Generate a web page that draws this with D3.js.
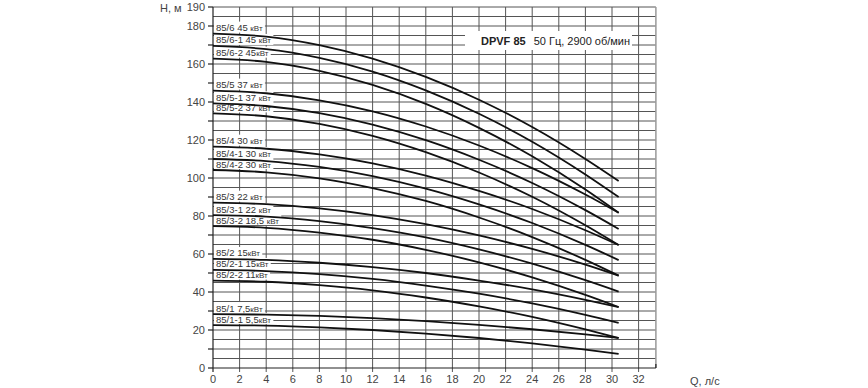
<!DOCTYPE html>
<html>
<head>
<meta charset="utf-8">
<script src="https://cdn.jsdelivr.net/npm/d3@7"></script>
<style>
  body { margin: 0; background: #fff; }
  svg { font-family: "Liberation Sans", Arial, sans-serif; }
</style>
</head>
<body>
<div id="chart"></div>
<script>
// Подача, л/с
const flow = [0, 4, 8, 12, 16, 20, 24, 28, 30.5];

// Насосы и мощность двигателя
const pumps = ["85/6", "85/6-1", "85/6-2", "85/5", "85/5-1", "85/5-2",
  "85/4", "85/4-1", "85/4-2", "85/3", "85/3-1", "85/3-2",
  "85/2", "85/2-1", "85/2-2", "85/1", "85/1-1"];
const power = ["45 ", "45 ", "45", "37 ", "37 ", "37 ",
  "30 ", "30 ", "30 ", "22 ", "22 ", "18,5 ",
  "15", "15", "11", "7,5", "5,5"];

// Напор, м (по точкам flow)
const head = [
  [176, 174.4, 169.9, 162.8, 153.2, 141.2, 126.8, 110, 98.4],
  [169.5, 167.8, 163.2, 156, 146.1, 133.8, 119.1, 101.9, 90],
  [162.8, 161.1, 156.4, 149, 139, 126.4, 111.4, 93.9, 81.7],
  [146, 144.6, 140.9, 135.1, 127.1, 117.1, 105.2, 91.3, 81.7],
  [139.3, 137.9, 134.1, 128.1, 119.9, 109.6, 97.4, 83.1, 73.2],
  [134, 132.5, 128.5, 122.2, 113.6, 102.9, 90.1, 75.1, 64.7],
  [116.5, 115.4, 112.4, 107.7, 101.3, 93.2, 83.7, 72.5, 64.7],
  [110, 108.9, 105.8, 101, 94.4, 86.1, 76.3, 64.8, 56.8],
  [104.2, 103, 99.8, 94.7, 87.9, 79.2, 68.9, 56.9, 48.6],
  [87, 86.2, 84, 80.5, 75.7, 69.8, 62.7, 54.4, 48.6],
  [80.5, 79.7, 77.3, 73.6, 68.7, 62.4, 54.9, 46.2, 40.2],
  [74.7, 73.8, 71.3, 67.5, 62.2, 55.6, 47.7, 38.5, 32.1],
  [57.4, 56.9, 55.4, 53.1, 50, 46, 41.4, 35.9, 32.1],
  [51.6, 51, 49.4, 46.9, 43.4, 39.1, 34, 28, 23.8],
  [46, 45.4, 43.6, 40.9, 37.1, 32.4, 26.9, 20.3, 15.8],
  [28.4, 28.1, 27.4, 26.3, 24.7, 22.7, 20.4, 17.7, 15.8],
  [22.6, 22.3, 21.4, 20, 18.1, 15.8, 13, 9.7, 7.4]
];

const xTicks = d3.range(0, 33, 2);
const yTicks = [0, 20, 40, 60, 80, 100, 120, 140, 160, 180, 190];

const W = 868, H = 388;
const svg = d3.select("#chart").append("svg").attr("width", W).attr("height", H);

const x = d3.scaleLinear().domain([0, 32]).range([213, 638.6]);
const y = d3.scaleLinear().domain([0, 190]).range([368, 7]);
const xMax = 33.3;

const grid = svg.append("g").attr("stroke", "#555").attr("stroke-width", 1);
// горизонтальная сетка через 5 м
d3.range(5, 191, 5).forEach(v => {
  grid.append("line").attr("x1", x(0)).attr("x2", x(xMax)).attr("y1", y(v)).attr("y2", y(v));
});
// вертикальная сетка через 2 л/с
xTicks.slice(1).forEach(v => {
  grid.append("line").attr("x1", x(v)).attr("x2", x(v)).attr("y1", y(0) + 4).attr("y2", y(190));
});
grid.append("line").attr("x1", x(xMax)).attr("x2", x(xMax)).attr("y1", y(0)).attr("y2", y(190))
  .attr("stroke", "#999").attr("stroke-width", 1.5);

// оси
const axes = svg.append("g").attr("stroke", "#222").attr("stroke-width", 1.2);
axes.append("line").attr("x1", x(0)).attr("x2", x(0)).attr("y1", y(0) + 4).attr("y2", y(190));
axes.append("line").attr("x1", x(0)).attr("x2", x(xMax)).attr("y1", y(0)).attr("y2", y(0));
axes.append("line").attr("x1", x(xMax)).attr("x2", x(xMax)).attr("y1", y(0)).attr("y2", y(0) - 4);
d3.range(0, 191, 10).forEach(v => {
  axes.append("line").attr("x1", x(0) - 5).attr("x2", x(0)).attr("y1", y(v)).attr("y2", y(v));
});

// подписи осей
svg.append("g").selectAll("text").data(yTicks).join("text")
  .attr("x", 205).attr("y", d => y(d) + 4)
  .attr("text-anchor", "end").attr("font-size", 11).attr("fill", "#444")
  .text(d => d);
svg.append("g").selectAll("text").data(xTicks).join("text")
  .attr("x", d => x(d)).attr("y", 383)
  .attr("text-anchor", "middle").attr("font-size", 11).attr("fill", "#444")
  .text(d => d);
svg.append("text").attr("x", 160).attr("y", 12).attr("font-size", 11).attr("fill", "#444").text("Н, м");
svg.append("text").attr("x", 690).attr("y", 385).attr("font-size", 11).attr("fill", "#444").text("Q, л/с");

// заголовок
svg.append("rect").attr("x", 465).attr("y", 31).attr("width", 167).attr("height", 19).attr("fill", "#fff");
const title = svg.append("text").attr("x", 481).attr("y", 45).attr("font-size", 11).attr("fill", "#222");
title.append("tspan").attr("font-weight", "bold").text("DPVF 85");
title.append("tspan").attr("dx", 8).text("50 Гц, 2900 об/мин");

// подписи кривых
const labels = svg.append("g");
pumps.forEach((p, i) => {
  const yy = y(head[i][0]);
  const t = labels.append("text").attr("x", 216).attr("y", yy - 2.5)
    .attr("font-size", 9.5).attr("fill", "#333");
  t.append("tspan").text(p + " " + power[i]);
  t.append("tspan").attr("font-size", 8).text("кВт");
  const bb = t.node().getBBox();
  labels.insert("rect", "text").attr("x", 214).attr("y", yy - 12)
    .attr("width", bb.x + bb.width - 214 + 2).attr("height", 11).attr("fill", "#fff");
});

// кривые Q-H
const line = d3.line().x((d, j) => x(flow[j])).y(d => y(d)).curve(d3.curveMonotoneX);
svg.append("g").selectAll("path").data(head).join("path")
  .attr("d", line).attr("fill", "none").attr("stroke", "#111").attr("stroke-width", 1.8);
</script>
</body>
</html>
